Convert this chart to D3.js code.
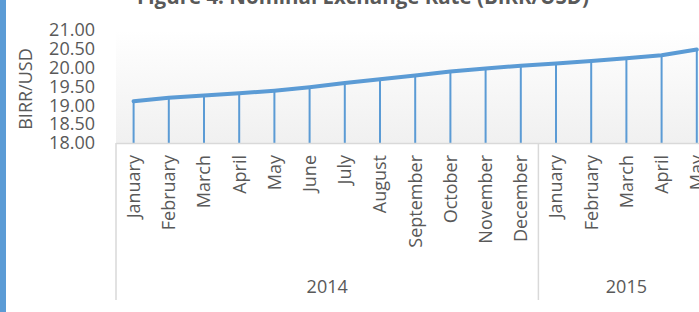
<!DOCTYPE html>
<html>
<head>
<meta charset="utf-8">
<script src="https://cdn.jsdelivr.net/npm/d3@7"></script>
<style>
  body { margin: 0; background: #fff; }
  svg { display: block; font-family: "Open Sans", sans-serif; }
</style>
</head>
<body>
<div id="chart"></div>
<script>
// values
var months = ["January","February","March","April","May","June","July","August",
  "September","October","November","December","January","February","March","April","May"];
var years = ["2014","2015"];
var yearOf = [0,0,0,0,0,0,0,0,0,0,0,0,1,1,1,1,1];
var rate = [19.11,19.20,19.26,19.32,19.39,19.48,19.59,19.69,19.79,19.90,19.98,20.05,
  20.11,20.18,20.25,20.33,20.48];
var yTicks = [18.0,18.5,19.0,19.5,20.0,20.5,21.0];

var W = 699, H = 312;
var blue = "#5b9bd5", grey = "#595959", axisGrey = "#d9d9d9";
var fs = 18;

var svg = d3.select("#chart").append("svg").attr("width", W).attr("height", H);

var defs = svg.append("defs");
var grad = defs.append("linearGradient").attr("id", "bg")
  .attr("x1", 0).attr("y1", 0).attr("x2", 0).attr("y2", 1);
grad.append("stop").attr("offset", "0%").attr("stop-color", "#ffffff");
grad.append("stop").attr("offset", "100%").attr("stop-color", "#f0f0f0");

var x = d3.scaleBand().domain(d3.range(months.length)).range([116, 116 + 17 * 35.2]);
var y = d3.scaleLinear().domain([18, 21]).range([143, 30]);

// left accent bar
svg.append("rect").attr("x", 0).attr("y", 0).attr("width", 6).attr("height", H).attr("fill", blue);

// title (cut off at the top in the reference)
svg.append("text")
  .attr("x", 363).attr("y", 4)
  .attr("text-anchor", "middle")
  .attr("font-size", 20.5).attr("font-weight", "bold").attr("fill", grey)
  .text("Figure 4: Nominal Exchange Rate (BIRR/USD)");

// plot background
svg.append("rect")
  .attr("x", x.range()[0]).attr("y", y(21))
  .attr("width", x.range()[1] - x.range()[0]).attr("height", y(18) - y(21))
  .attr("fill", "url(#bg)");

// y axis labels
svg.append("g").selectAll("text").data(yTicks).enter().append("text")
  .attr("x", 95).attr("y", function(d){ return y(d); })
  .attr("dy", "0.35em").attr("text-anchor", "end")
  .attr("font-size", fs).attr("fill", grey)
  .text(function(d){ return d3.format(".2f")(d); });

svg.append("text")
  .attr("transform", "translate(26,89) rotate(-90)")
  .attr("text-anchor", "middle").attr("dy", "0.35em")
  .attr("font-size", fs).attr("fill", grey)
  .text("BIRR/USD");

// drop lines
var cx = function(i){ return x(i) + x.bandwidth() / 2; };
svg.append("g").selectAll("line").data(rate).enter().append("line")
  .attr("x1", function(d, i){ return cx(i); })
  .attr("x2", function(d, i){ return cx(i); })
  .attr("y1", function(d){ return y(d); })
  .attr("y2", y(18))
  .attr("stroke", blue).attr("stroke-width", 2);

// category axis
svg.append("line")
  .attr("x1", x.range()[0]).attr("x2", x.range()[1])
  .attr("y1", y(18) + 0.5).attr("y2", y(18) + 0.5)
  .attr("stroke", axisGrey).attr("stroke-width", 1.5);

var bounds = [0, 12, 17];
svg.append("g").selectAll("line").data(bounds).enter().append("line")
  .attr("x1", function(d){ return d < months.length ? x(d) : x.range()[1]; })
  .attr("x2", function(d){ return d < months.length ? x(d) : x.range()[1]; })
  .attr("y1", y(18)).attr("y2", 300)
  .attr("stroke", axisGrey).attr("stroke-width", 1.5);

// line
svg.append("path").datum(rate)
  .attr("fill", "none").attr("stroke", blue).attr("stroke-width", 4)
  .attr("stroke-linejoin", "round").attr("stroke-linecap", "round")
  .attr("d", d3.line().x(function(d, i){ return cx(i); }).y(function(d){ return y(d); }));

// month labels
svg.append("g").selectAll("text").data(months).enter().append("text")
  .attr("transform", function(d, i){ return "translate(" + cx(i) + ",155) rotate(-90)"; })
  .attr("dy", "0.35em").attr("text-anchor", "end")
  .attr("font-size", fs).attr("fill", grey)
  .text(function(d){ return d; });

// year labels
svg.append("g").selectAll("text").data(years).enter().append("text")
  .attr("x", function(d, k){
    var idx = d3.range(months.length).filter(function(i){ return yearOf[i] === k; });
    return (x(idx[0]) + x(idx[idx.length - 1]) + x.bandwidth()) / 2;
  })
  .attr("y", 287).attr("dy", "0.35em").attr("text-anchor", "middle")
  .attr("font-size", fs).attr("fill", grey)
  .text(function(d){ return d; });
</script>
</body>
</html>
